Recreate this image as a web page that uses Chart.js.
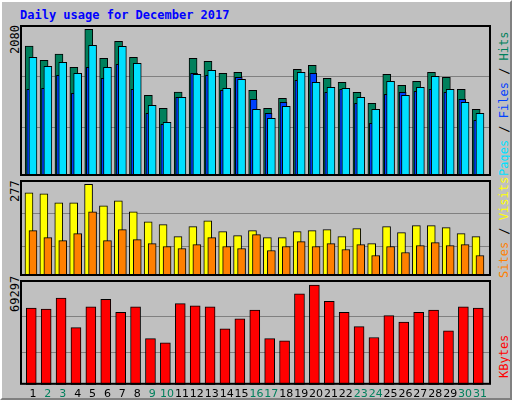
<!DOCTYPE html>
<html><head><meta charset="utf-8">
<script src="https://cdn.jsdelivr.net/npm/chart.js@4"></script>
<style>
body{margin:0;overflow:hidden;}
#wrap{position:absolute;left:0;top:0;width:508px;height:396px;background:#c0c0c0;border-left:2px solid #fff;border-top:2px solid #fff;border-right:2px solid #808080;border-bottom:2px solid #808080;font-family:"DejaVu Sans Mono",monospace;font-size:12px;overflow:hidden;}
canvas{position:absolute;}
.t{position:absolute;white-space:nowrap;}
.rot{transform-origin:0 0;transform:rotate(-90deg);}
</style></head><body>
<div id="wrap">
<div class="t" style="left:18px;top:6px;color:#0000ff;font-weight:bold;">Daily usage for December 2017</div>
<div class="t rot" style="left:6px;top:52px;">2080</div>
<div class="t rot" style="left:6px;top:200px;">277</div>
<div class="t rot" style="left:6px;top:310px;">69297</div>
<div class="t rot" style="left:495px;top:174px;"><span style="color:#00e0ff">Pages</span> / <span style="color:#0040ff">Files</span> / <span style="color:#00805c">Hits</span></div>
<div class="t rot" style="left:495px;top:276px;"><span style="color:#ff8000">Sites</span> / <span style="color:#ffff00">Visits</span></div>
<div class="t rot" style="left:495px;top:376px;"><span style="color:#ff0000">KBytes</span></div>
<canvas id="c1" style="left:18px;top:23px;width:471px;height:151px"></canvas>
<canvas id="c2" style="left:18px;top:178px;width:471px;height:96px"></canvas>
<canvas id="c3" style="left:18px;top:278px;width:471px;height:124px"></canvas>
</div>
<script>
const days=[1,2,3,4,5,6,7,8,9,10,11,12,13,14,15,16,17,18,19,20,21,22,23,24,25,26,27,28,29,30,31];
const dayLabels=days.map(String);
const weekend=[2,3,9,10,16,17,23,24,30,31];
const hits=[1843,1640,1730,1541,2080,1668,1910,1683,1143,959,1190,1668,1627,1456,1471,1214,959,1100,1512,1569,1385,1327,1186,1030,1441,1285,1342,1471,1400,1229,946];
const files=[1683,1554,1612,1456,1854,1541,1839,1597,1002,762,1115,1441,1499,1244,1370,946,818,989,1471,1327,1257,1244,1115,946,1342,1143,1257,1413,1229,1045,888];
const pages=[1229,1244,1428,1173,1541,1385,1584,1229,888,732,1115,1456,1428,1214,1400,1088,888,1045,1357,1456,1186,1229,1030,747,1158,1186,1201,1229,1186,1088,790];
const visits=[251,248,221,221,277,212,227,194,164,155,119,149,167,134,122,137,116,116,134,137,140,119,143,98,149,131,152,152,146,128,119];
const sites=[137,116,107,128,194,107,140,110,98,89,83,95,116,89,83,125,77,89,104,89,98,80,95,62,89,71,92,101,92,95,62];
const kbytes=[53383,52624,60214,39721,54142,59455,50347,54142,32131,29095,56419,54901,54142,38962,45793,51865,32131,30613,63250,69297,57937,50347,40480,32890,48070,43516,50347,51865,37444,54142,53383];
const maxHits=2141, maxVisits=290, maxKB=69297*288/274;

const PX=14.9;
function pts(arr,offPx){return arr.map((v,i)=>({x:days[i]+offPx/PX,y:v}));}
function ds(arr,off,w,color){return {data:pts(arr,off),backgroundColor:color,borderColor:'#000',borderWidth:1,borderSkipped:false,barThickness:w,grouped:false};}
const frame={id:'frame',afterDraw(c){const a=c.chartArea,x=c.ctx;x.save();x.strokeStyle='#000';x.lineWidth=2;x.strokeRect(a.left+1,a.top+1,a.right-a.left-2,a.bottom-a.top-2);x.restore();}};
function make(id,datasets,max,fr,showX){
  return new Chart(document.getElementById(id),{type:'bar',data:{datasets},plugins:[frame],
  options:{responsive:false,animation:false,devicePixelRatio:1,layout:{padding:0},
   plugins:{legend:{display:false},tooltip:{enabled:false}},
   scales:{
    x:{type:'linear',min:0.13,max:31.74,offset:false,display:showX,grid:{display:false,drawTicks:false},border:{display:false},
       afterBuildTicks:s=>{s.ticks=days.map(d=>({value:d}));},
       ticks:{padding:3,autoSkip:false,maxRotation:0,font:{family:'DejaVu Sans',size:11},
         color:c=>weekend.includes(c.tick&&c.tick.value)?'#00805c':'#000',
         callback:(v,i)=>dayLabels[i]}},
    y:{min:0,max:max,display:true,grid:{color:'#808080',lineWidth:1,drawTicks:false},border:{display:false},
       afterBuildTicks:s=>{s.ticks=fr.map(f=>({value:f*max}));},
       ticks:{display:false}}
   }}});
}
const c1=document.getElementById('c1');c1.width=471;c1.height=151;
const c2=document.getElementById('c2');c2.width=471;c2.height=96;
const c3=document.getElementById('c3');c3.width=471;c3.height=124;
make('c1',[ds(files,0,8,'#00e0ff'),ds(pages,-2.8,7,'#0040ff'),ds(hits,-3.8,8,'#00805c')],maxHits,[0.322,0.66],false);
make('c2',[ds(sites,0,8,'#ff8000'),ds(visits,-4,8,'#ffff00')],maxVisits,[0.309,0.653],false);
make('c3',[ds(kbytes,-1.7,10,'#ff0000')],maxKB,[0.31,0.65],true);
</script>
</body></html>
